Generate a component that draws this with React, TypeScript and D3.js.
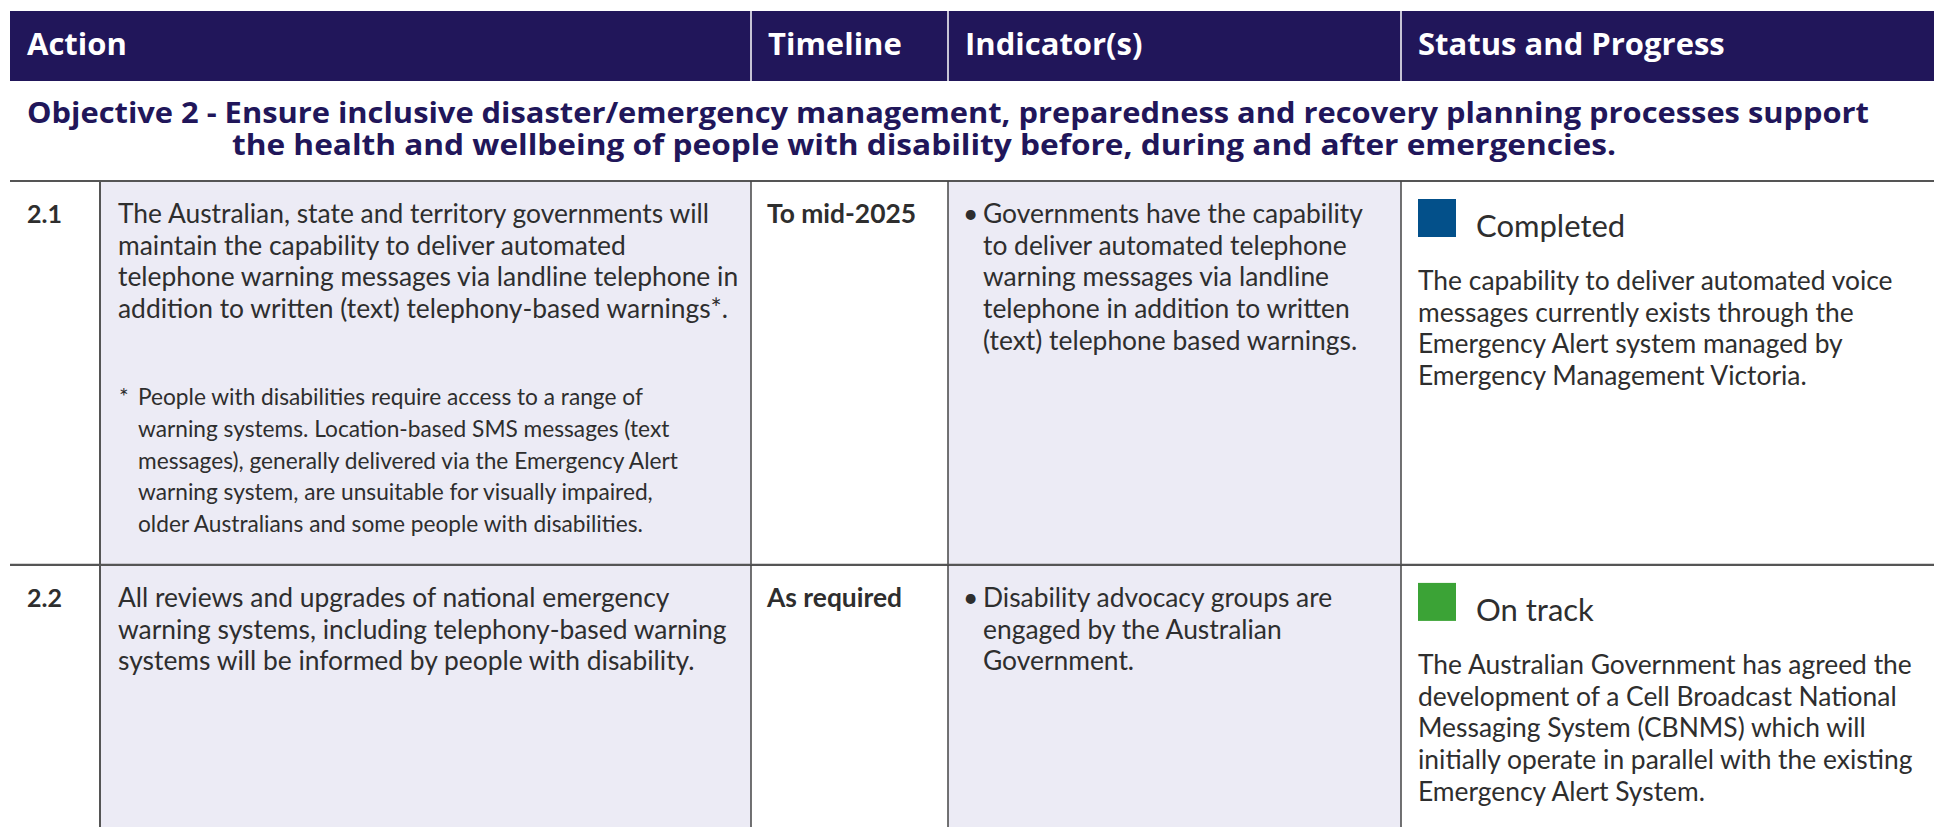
import React from "react";
import * as d3 from "d3";

// table content
const headers = ["Action", "Timeline", "Indicator(s)", "Status and Progress"];
const objectiveLines = [
  "Objective 2 - Ensure inclusive disaster/emergency management, preparedness and recovery planning processes support",
  "the health and wellbeing of people with disability before, during and after emergencies.",
];
const actionIds = ["2.1", "2.2"];
const actionLines = [
  [
    "The Australian, state and territory governments will",
    "maintain the capability to deliver automated",
    "telephone warning messages via landline telephone in",
    "addition to written (text) telephony-based warnings*.",
  ],
  [
    "All reviews and upgrades of national emergency",
    "warning systems, including telephony-based warning",
    "systems will be informed by people with disability.",
  ],
];
const footnoteLines = [
  [
    "People with disabilities require access to a range of",
    "warning systems. Location-based SMS messages (text",
    "messages), generally delivered via the Emergency Alert",
    "warning system, are unsuitable for visually impaired,",
    "older Australians and some people with disabilities.",
  ],
  [],
];
const timelines = ["To mid-2025", "As required"];
const indicatorLines = [
  [
    "Governments have the capability",
    "to deliver automated telephone",
    "warning messages via landline",
    "telephone in addition to written",
    "(text) telephone based warnings.",
  ],
  ["Disability advocacy groups are", "engaged by the Australian", "Government."],
];
const statuses = ["Completed", "On track"];
const statusColors = ["#03508A", "#3BA336"];
const progressLines = [
  [
    "The capability to deliver automated voice",
    "messages currently exists through the",
    "Emergency Alert system managed by",
    "Emergency Management Victoria.",
  ],
  [
    "The Australian Government has agreed the",
    "development of a Cell Broadcast National",
    "Messaging System (CBNMS) which will",
    "initially operate in parallel with the existing",
    "Emergency Alert System.",
  ],
];

const W = 1934;
const H = 827;
const navy = "#21165A";
const lavender = "#ECEBF5";
const ink = "#2E2E2E";
const bodyFont = "Lato, sans-serif";
const headFont = "'Open Sans', sans-serif";

const colWidths = [90, 651, 197, 453, 533];
const colX = [10, ...d3.cumsum(colWidths).map((w) => 10 + w)];
const lineH = 31.7;
const firstBase = 42;
const tableTop = 181;

// row heights from content
const rowHeights = actionIds.map((_, i) => {
  const actionEnd =
    firstBase + (actionLines[i].length - 1) * lineH +
    (footnoteLines[i].length ? 87 + (footnoteLines[i].length - 1) * lineH : 0);
  const statusEnd = 109 + (progressLines[i].length - 1) * lineH;
  const indEnd = firstBase + (indicatorLines[i].length - 1) * lineH;
  return Math.max(actionEnd, statusEnd, indEnd) + 33;
});
const rowTops = [tableTop, ...d3.cumsum(rowHeights).map((h) => tableTop + h)];

const statusColor = d3.scaleOrdinal<string, string>().domain(statuses).range(statusColors);

const Lines = ({ x, y, lines, size, bullet = false }) => (
  <g>
    {lines.map((t, j) => (
      <text key={j} x={x} y={y + j * lineH} fontFamily={bodyFont} fontSize={size} fill={ink}>
        {t}
      </text>
    ))}
    {bullet && lines.length > 0 && (
      <text x={x - 20} y={y} fontFamily={bodyFont} fontSize={size} fill={ink}>
        •
      </text>
    )}
  </g>
);

export default function App() {
  return (
    <svg
      width={W}
      height={H}
      style={{ position: "absolute", left: 0, top: 0, background: "#fff" }}
    >
      {/* header */}
      <rect x={colX[0]} y={11} width={W - colX[0]} height={70} fill={navy} />
      {[2, 3, 4].map((c) => (
        <line key={c} x1={colX[c]} x2={colX[c]} y1={11} y2={81} stroke="#fff" strokeWidth={1.5} />
      ))}
      {headers.map((h, i) => (
        <text
          key={h}
          x={(i === 0 ? colX[0] : colX[i + 1]) + 17}
          y={55}
          fontFamily={headFont}
          fontWeight={700}
          fontSize={31}
          fill="#fff"
        >
          {h}
        </text>
      ))}

      {/* objective */}
      <text
        x={27}
        y={123}
        textLength={1842}
        lengthAdjust="spacingAndGlyphs"
        fontFamily={headFont}
        fontWeight={700}
        fontSize={28.5}
        fill={navy}
      >
        {objectiveLines[0]}
      </text>
      <text
        x={232}
        y={155}
        textLength={1384}
        lengthAdjust="spacingAndGlyphs"
        fontFamily={headFont}
        fontWeight={700}
        fontSize={28.5}
        fill={navy}
      >
        {objectiveLines[1]}
      </text>

      {/* rows */}
      {actionIds.map((id, i) => {
        const top = rowTops[i];
        const h = rowHeights[i];
        const base = top + firstBase;
        return (
          <g key={id}>
            <rect x={colX[1]} y={top} width={colWidths[1]} height={h} fill={lavender} />
            <rect x={colX[3]} y={top} width={colWidths[3]} height={h} fill={lavender} />
            <line x1={colX[0]} x2={W} y1={top} y2={top} stroke="#555" strokeWidth={2.2} />
            <line x1={colX[1]} x2={colX[1]} y1={top} y2={top + h} stroke="#555" strokeWidth={2} />
            {[2, 3, 4].map((c) => (
              <line key={c} x1={colX[c]} x2={colX[c]} y1={top} y2={top + h} stroke="#444" strokeWidth={1.5} />
            ))}

            <text x={27} y={base} fontFamily={bodyFont} fontWeight={700} fontSize={25} fill={ink}>
              {id}
            </text>
            <Lines x={colX[1] + 18} y={base} lines={actionLines[i]} size={26.4} />
            {footnoteLines[i].length > 0 && (
              <g>
                <text
                  x={colX[1] + 19}
                  y={base + (actionLines[i].length - 1) * lineH + 87}
                  fontFamily={bodyFont}
                  fontSize={22.7}
                  fill={ink}
                >
                  *
                </text>
                <Lines
                  x={colX[1] + 38}
                  y={base + (actionLines[i].length - 1) * lineH + 87}
                  lines={footnoteLines[i]}
                  size={22.7}
                />
              </g>
            )}
            <text x={colX[2] + 16} y={base} fontFamily={bodyFont} fontWeight={700} fontSize={26.4} fill={ink}>
              {timelines[i]}
            </text>
            <Lines x={colX[3] + 35} y={base} lines={indicatorLines[i]} size={26.4} bullet />

            <rect x={colX[4] + 17} y={top + 18} width={38} height={38} fill={statusColor(statuses[i])} />
            <text x={colX[4] + 75} y={top + 56} fontFamily={bodyFont} fontSize={31} fill={ink}>
              {statuses[i]}
            </text>
            <Lines x={colX[4] + 17} y={top + 109} lines={progressLines[i]} size={26.4} />
          </g>
        );
      })}
    </svg>
  );
}
